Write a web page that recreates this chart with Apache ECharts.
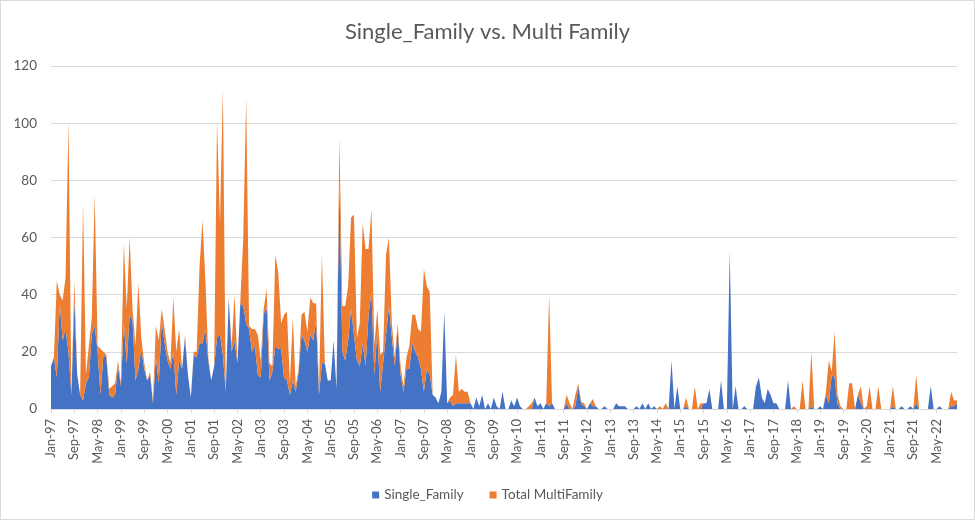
<!DOCTYPE html>
<html>
<head>
<meta charset="utf-8">
<script src="https://cdn.jsdelivr.net/npm/echarts@6/dist/echarts.min.js"></script>
<style>
html,body{margin:0;padding:0;background:#fff;}
#chart{width:975px;height:520px;box-sizing:border-box;border:1px solid #d9d9d9;}
</style>
</head>
<body>
<div id="chart"></div>
<script>
// Monthly categories Jan-97 .. Dec-22
const monthNames = ["Jan","Feb","Mar","Apr","May","Jun","Jul","Aug","Sep","Oct","Nov","Dec"];
const firstYear = 1997, lastYear = 2022;
const categories = [];
for (let y = firstYear; y <= lastYear; y++) {
  for (const m of monthNames) categories.push(m + "-" + String(y % 100).padStart(2, "0"));
}

const singleFamily = [
  15,18,11,37,24,28,20,5,38,12,5,3,
  9,11,26,29,20,5,19,18,5,4,5,15,
  8,30,16,33,31,10,14,21,14,10,12,2,
  18,9,31,23,17,14,20,5,17,14,25,12,
  4,19,18,23,23,28,17,10,15,25,26,19,
  6,39,20,24,16,37,36,30,28,20,22,12,
  11,33,36,10,13,22,21,21,11,10,5,10,
  6,13,26,24,20,26,24,31,5,16,16,10,
  10,24,7,80,20,17,24,35,26,17,15,23,
  15,33,41,12,27,6,16,26,36,25,15,28,
  12,6,14,14,23,20,18,14,6,14,12,5,
  4,2,6,34,2,3,1,2,2,2,2,2,
  2,0,4,1,5,0,2,0,4,1,0,6,
  0,0,3,1,4,1,0,0,0,0,4,1,
  2,0,2,1,2,0,0,0,0,2,0,0,
  1,8,2,1,0,2,1,1,0,0,1,0,
  0,0,2,1,1,1,0,0,0,1,0,2,
  0,2,0,1,0,0,0,0,0,17,0,8,
  0,0,1,0,0,0,0,0,2,2,7,0,
  0,0,10,0,0,55,0,8,0,0,1,0,
  0,0,8,11,4,2,7,5,2,2,0,0,
  0,10,0,0,0,0,0,0,0,1,0,0,
  1,0,5,2,12,11,2,0,0,0,0,0,
  0,5,2,0,0,0,0,0,0,0,0,0,
  0,1,0,0,1,0,0,1,0,2,0,0,
  0,0,8,0,0,1,0,0,0,1,1,2
];

const totalMultiFamily = [
  0,0,34,3,14,18,81,0,7,0,0,69,
  3,11,6,46,2,16,1,1,2,4,4,2,
  1,28,19,27,4,12,30,4,2,0,1,1,
  11,15,4,5,3,2,19,15,11,0,1,0,
  0,1,2,27,43,17,1,0,0,76,39,93,
  0,0,2,16,0,1,24,79,1,8,6,14,
  6,2,6,6,2,32,27,9,22,24,4,22,
  2,1,7,10,7,13,13,6,2,38,0,0,
  0,0,0,15,16,19,19,32,42,8,15,42,
  41,23,29,10,8,13,4,28,24,5,3,2,
  3,2,4,8,10,13,10,13,43,29,29,0,
  0,0,0,0,0,1,4,17,4,5,4,4,
  0,0,0,0,0,0,0,0,0,0,0,0,
  0,0,0,0,0,0,0,0,1,2,0,0,
  0,0,0,39,0,0,0,0,0,3,2,0,
  4,1,0.5,1,0,0,2.5,0,0,0,0,0,
  0,0,0,0,0,0,0,0,0,0,0,0,
  0,0,0,0,0,1,0,2,0,0,0,0,
  0,0,3,0,0,8,0,2,0,0,0,0,
  0,0,0,0,0,0,0,0,0,0,0,0,
  0,0,0,0,0,0,0,0,0,0,0,0,
  0,0,0,1,0,0,10,0,0,19,0,0,
  0,0,1,15,1,16,3,1,0,0,9,9,
  0,0,6,0,1,8,0,0,8,0,0,0,
  0,7,0,0,0,0,0,0,0,10,0,0,
  0,0,0,0,0,0,0,0,0,5,2,1
];

const yTicks = { min: 0, max: 120, interval: 20 };
const seriesNames = ["Single_Family", "Total MultiFamily"];
const seriesColors = ["#4472C4", "#ED7D31"];

const chart = echarts.init(document.getElementById("chart"), null, { renderer: "canvas" });
const font = "Lato, 'Liberation Sans', sans-serif";
chart.setOption({
  animation: false,
  textStyle: { fontFamily: font },
  title: {
    text: "Single_Family vs. Multi Family",
    left: "center",
    top: 15,
    textStyle: { fontFamily: font, fontSize: 22, fontWeight: "normal", color: "#595959" }
  },
  legend: {
    data: seriesNames,
    bottom: 12,
    left: "center",
    icon: "rect",
    itemWidth: 7,
    itemHeight: 7,
    itemGap: 26,
    textStyle: { fontFamily: font, fontSize: 13.5, color: "#595959" }
  },
  grid: { left: 50, right: 17, top: 65, bottom: 110, containLabel: false },
  xAxis: {
    type: "category",
    boundaryGap: false,
    data: categories,
    axisLine: { lineStyle: { color: "#d9d9d9", width: 1 } },
    axisTick: { show: true, interval: 7, length: 4, lineStyle: { color: "#d9d9d9" } },
    axisLabel: { interval: 7, rotate: 90, fontSize: 13, color: "#595959", margin: 10, fontFamily: font },
    splitLine: { show: false }
  },
  yAxis: {
    type: "value",
    min: yTicks.min,
    max: yTicks.max,
    interval: yTicks.interval,
    axisLine: { show: false },
    axisTick: { show: false },
    axisLabel: { fontSize: 13.5, color: "#595959", margin: 14, fontFamily: font },
    splitLine: { lineStyle: { color: "#d9d9d9", width: 1 } }
  },
  series: [
    {
      name: seriesNames[0], type: "line", stack: "total", data: singleFamily,
      symbol: "none", lineStyle: { width: 0 }, color: seriesColors[0],
      areaStyle: { color: seriesColors[0], opacity: 1 }
    },
    {
      name: seriesNames[1], type: "line", stack: "total", data: totalMultiFamily,
      symbol: "none", lineStyle: { width: 0 }, color: seriesColors[1],
      areaStyle: { color: seriesColors[1], opacity: 1 }
    }
  ]
});
</script>
</body>
</html>
